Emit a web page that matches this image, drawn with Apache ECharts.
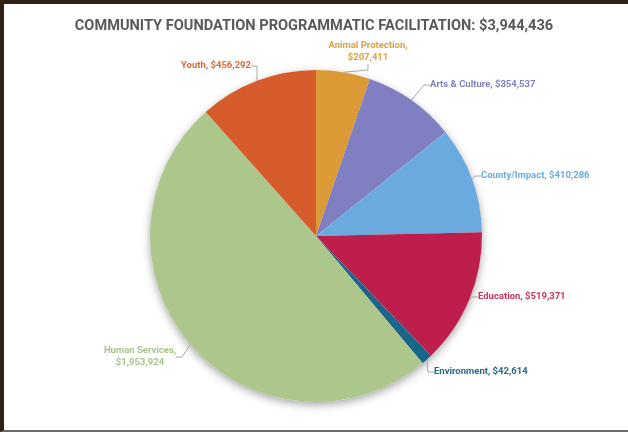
<!DOCTYPE html>
<html>
<head>
<meta charset="utf-8">
<script src="https://cdn.jsdelivr.net/npm/echarts@6/dist/echarts.min.js"></script>
<style>
  html, body { margin: 0; padding: 0; background: #fff; }
  #frame { position: absolute; left: 0; top: 0; width: 628px; height: 432px; box-sizing: border-box;
           border-top: 4px solid #2e2219; border-left: 4px solid #2e2219; border-bottom: 2px solid #6f6a66; }
  #chart { position: absolute; left: 0; top: 0; width: 628px; height: 432px; }
</style>
</head>
<body>
<div id="frame"></div>
<div id="chart"></div>
<script>
const titleText = 'COMMUNITY FOUNDATION PROGRAMMATIC FACILITATION: $3,944,436';
const categories = ['Animal Protection', 'Arts & Culture', 'County/Impact', 'Education', 'Environment', 'Human Services', 'Youth'];
const values = [207411, 354537, 410286, 519371, 42614, 1953924, 456292];
const colors = ['#dc9a37', '#7f7fc2', '#6aaadf', '#bd1e4b', '#1a6688', '#adc68b', '#d75c2b'];
const labelColors = ['#e0a040', '#8080c4', '#6aaae0', '#c8345a', '#2a6a8c', '#a8c48a', '#e0683a'];
const wrapNames = ['Animal Protection', 'Human Services'];
// label placement (style): [x, y, align]
const labelPlace = [
  [368, 52, 'center'],
  [430, 85, 'left'],
  [481, 176, 'left'],
  [478, 297, 'left'],
  [434, 372, 'left'],
  [140, 357, 'center'],
  [251, 66, 'right']
];

const fmt = v => '$' + v.toLocaleString('en-US');

const chart = echarts.init(document.getElementById('chart'), null, { renderer: 'canvas' });
chart.setOption({
  animation: false,
  title: {
    text: titleText, left: 'center', top: 14,
    textStyle: { fontFamily: 'Roboto', fontWeight: 'bold', fontSize: 14.6, color: '#595959' }
  },
  series: [
    {
      type: 'pie', silent: true, center: [316, 236], radius: 166, z: 1,
      label: { show: false }, labelLine: { show: false },
      itemStyle: { color: '#ffffff', shadowBlur: 8, shadowColor: 'rgba(0,0,0,0.35)', shadowOffsetY: 3 },
      data: [{ value: 1 }]
    },
    {
      type: 'pie', center: [316, 236], radius: 166, z: 2,
      startAngle: 90, clockwise: true, avoidLabelOverlap: false,
      itemStyle: { borderWidth: 0 },
      label: {
        show: true, position: 'outside', fontFamily: 'Roboto', fontWeight: 'bold', fontSize: 9.5,
        lineHeight: 12,
        formatter: p => p.name + (wrapNames.includes(p.name) ? ',\n' : ', ') + fmt(p.value)
      },
      labelLine: { show: true, length: 8, length2: 6, lineStyle: { color: '#a6a6a6', width: 1 } },
      labelLayout: p => {
        const lp = labelPlace[p.dataIndex];
        return { x: lp[0], y: lp[1], align: lp[2], verticalAlign: 'middle' };
      },
      data: categories.map((c, i) => ({
        name: c, value: values[i],
        itemStyle: { color: colors[i] },
        label: { color: labelColors[i], align: labelPlace[i][2] }
      }))
    }
  ]
});
</script>
</body>
</html>
